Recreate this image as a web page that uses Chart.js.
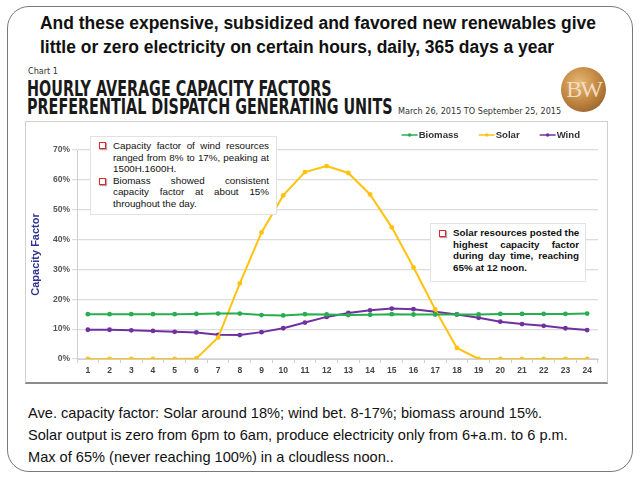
<!DOCTYPE html>
<html>
<head>
<meta charset="utf-8">
<script src="https://cdn.jsdelivr.net/npm/chart.js@4.4.0/dist/chart.umd.min.js"></script>
<style>
  body { margin: 0; background: #fff; font-family: "Liberation Sans", Arial, sans-serif; }
  #slide { position: absolute; left: 7px; top: 6px; width: 624px; height: 464px; border: 1.5px solid #7a7a7a; border-radius: 22px; }
  .head { position: absolute; left: 40px; font-weight: bold; font-size: 18px; color: #111; white-space: nowrap; transform: scaleX(0.97); transform-origin: 0 0; }
  .big { position: absolute; left: 27px; font-family: "DejaVu Sans Condensed", "DejaVu Sans", sans-serif; font-weight: bold; font-size: 21px; color: #1a1a1a; white-space: nowrap; transform: scaleX(0.76); transform-origin: 0 0; }
  #chartBox { position: absolute; left: 25px; top: 121px; width: 583px; height: 263px; border: 1px solid #cfcfcf; border-bottom: 2px solid #8c8c8c; box-sizing: border-box; }
  canvas { position: absolute; left: 25px; top: 121px; }
  .note { position: absolute; background: #fff; border: 1px solid #e2e2e2; font-size: 9.8px; line-height: 11.6px; color: #111; }
  .note .ln { text-align: justify; text-align-last: justify; white-space: nowrap; }
  .note .ln.end { text-align-last: left; }
  .bul { position: absolute; width: 5px; height: 5px; border: 1.4px solid #e4262c; box-shadow: 1px 1px 1px #aaa; }
  .caption { position: absolute; left: 28px; font-size: 14.6px; color: #111; white-space: nowrap; }
  #logo { position: absolute; left: 561px; top: 67px; width: 45px; height: 45px; border-radius: 50%;
          background: radial-gradient(circle at 40% 35%, #e7b877 0%, #c48a44 45%, #96602a 85%, #7b4d20 100%); }
  #logo span { position: absolute; left: 0; width: 45px; top: 9px; text-align: center; font-family: "Liberation Serif", "DejaVu Serif", serif; font-size: 24px; color: #f2dcc0; letter-spacing: -2px; }
</style>
</head>
<body>
<div id="slide"></div>
<div class="head" style="top:13px">And these expensive, subsidized and favored new renewables give</div>
<div class="head" style="top:37px">little or zero electricity on certain hours, daily, 365 days a year</div>
<div style="position:absolute;left:28px;top:66px;font-family:'DejaVu Sans Condensed';font-size:9px;color:#333">Chart 1</div>
<div class="big" style="top:77px">HOURLY AVERAGE CAPACITY FACTORS</div>
<div class="big" style="top:95px">PREFERENTIAL DISPATCH GENERATING UNITS</div>
<div style="position:absolute;left:398px;top:106px;font-family:'DejaVu Sans Condensed';font-size:9px;color:#333;white-space:nowrap">March 26, 2015 TO September 25, 2015</div>
<div id="logo"><span>BW</span></div>

<div id="chartBox"></div>
<canvas id="myChart" width="583" height="263"></canvas>

<div class="note" style="left:90px;top:136px;width:185px;height:77px">
  <div class="bul" style="left:8px;top:5px"></div>
  <div class="bul" style="left:8px;top:41px"></div>
  <div style="position:absolute;left:22px;top:3px;width:156px">
    <div class="ln">Capacity factor of wind resources</div>
    <div class="ln">ranged from 8% to 17%, peaking at</div>
    <div class="ln end">1500H.1600H.</div>
    <div class="ln">Biomass showed consistent</div>
    <div class="ln">capacity factor at about 15%</div>
    <div class="ln end">throughout the day.</div>
  </div>
</div>
<div class="note" style="left:430px;top:223px;width:154px;height:57px;font-weight:bold">
  <div class="bul" style="left:8px;top:6px"></div>
  <div style="position:absolute;left:22px;top:3px;width:126px">
    <div class="ln">Solar resources posted the</div>
    <div class="ln">highest capacity factor</div>
    <div class="ln">during day time, reaching</div>
    <div class="ln end">65% at 12 noon.</div>
  </div>
</div>

<div class="caption" style="top:405px">Ave. capacity factor: Solar around 18%; wind bet. 8-17%; biomass around 15%.</div>
<div class="caption" style="top:427px">Solar output is zero from 6pm to 6am, produce electricity only from 6+a.m. to 6 p.m.</div>
<div class="caption" style="top:449px">Max of 65% (never reaching 100%) in a cloudless noon..</div>

<script>
// Horas do dia (1 a 24)
const hours = ['1','2','3','4','5','6','7','8','9','10','11','12','13','14','15','16','17','18','19','20','21','22','23','24'];

// Fator de capacidade (%)
const biomass = [15.0, 15.0, 15.0, 15.0, 15.0, 15.1, 15.2, 15.2, 14.7, 14.6, 15.0, 14.9,
                 14.7, 14.8, 15.0, 14.9, 14.9, 14.9, 14.9, 15.1, 15.1, 15.1, 15.1, 15.2];
const solar = [0, 0, 0, 0, 0, 0.2, 7.2, 25.3, 42.4, 54.8, 62.6, 64.6,
               62.3, 55.1, 44.1, 30.7, 16.6, 3.7, 0, 0, 0, 0, 0, 0];
const wind = [9.8, 9.8, 9.6, 9.4, 9.1, 8.9, 8.1, 8.0, 9.0, 10.3, 12.2, 14.1,
              15.4, 16.3, 16.9, 16.7, 15.8, 14.9, 13.8, 12.5, 11.7, 11.1, 10.3, 9.7];

const yTicks = [0, 10, 20, 30, 40, 50, 60, 70];

// Legenda desenhada no canto superior direito
const legendPlugin = {
    id: 'topLegend',
    afterDraw(chart) {
        const ctx = chart.ctx;
        ctx.save();
        ctx.font = 'bold 9.6px "Liberation Sans", Arial';
        ctx.textBaseline = 'middle';
        let x = 555;
        const y = 14;
        const items = chart.data.datasets.slice().reverse();
        items.forEach(ds => {
            const w = ctx.measureText(ds.label).width;
            x -= w;
            ctx.fillStyle = '#333';
            ctx.fillText(ds.label, x, y);
            ctx.strokeStyle = ds.borderColor;
            ctx.lineWidth = 1.5;
            ctx.beginPath();
            ctx.moveTo(x - 17, y);
            ctx.lineTo(x - 1, y);
            ctx.stroke();
            ctx.fillStyle = ds.borderColor;
            ctx.beginPath();
            ctx.arc(x - 9, y, 1.8, 0, Math.PI * 2);
            ctx.fill();
            x -= 17 + 20;
        });
        ctx.restore();
    }
};

const ctx = document.getElementById('myChart').getContext('2d');

new Chart(ctx, {
    type: 'line',
    data: {
        labels: hours,
        datasets: [
            { label: 'Biomass', data: biomass, borderColor: '#27ae4f', backgroundColor: '#27ae4f' },
            { label: 'Solar', data: solar, borderColor: '#ffc20e', backgroundColor: '#ffc20e' },
            { label: 'Wind', data: wind, borderColor: '#7030a0', backgroundColor: '#7030a0' }
        ]
    },
    options: {
        responsive: false,
        animation: false,
        elements: {
            line: { borderWidth: 2, tension: 0 },
            point: { radius: 2.4, borderWidth: 0 }
        },
        layout: { padding: { top: 29, right: 10, left: 4, bottom: 0 } },
        plugins: {
            legend: { display: false },
            tooltip: { enabled: false }
        },
        scales: {
            y: {
                min: 0,
                max: 70,
                afterFit: s => { s.width = 48; },
                afterBuildTicks: s => { s.ticks = yTicks.map(v => ({ value: v })); },
                ticks: {
                    color: '#555',
                    padding: 2,
                    font: { family: '"Liberation Sans", Arial', size: 8.5, weight: 'bold' },
                    callback: v => v + '%'
                },
                grid: { color: '#dcdcdc', lineWidth: 1.2, tickLength: 5 },
                border: { color: '#cfcfcf' },
                title: {
                    display: true,
                    text: 'Capacity Factor',
                    color: '#2e3192',
                    padding: 0,
                    font: { family: '"Liberation Sans", Arial', size: 11, weight: 'bold' }
                }
            },
            x: {
                offset: true,
                afterFit: s => { s.height = 25; },
                ticks: {
                    color: '#444',
                    padding: 3,
                    maxRotation: 0,
                    font: { family: '"Liberation Sans", Arial', size: 8.5, weight: 'bold' }
                },
                grid: { display: true, drawOnChartArea: false, offset: true, tickLength: 4, color: '#cfcfcf' },
                border: { color: '#cfcfcf' }
            }
        }
    },
    plugins: [legendPlugin]
});
</script>
</body>
</html>
